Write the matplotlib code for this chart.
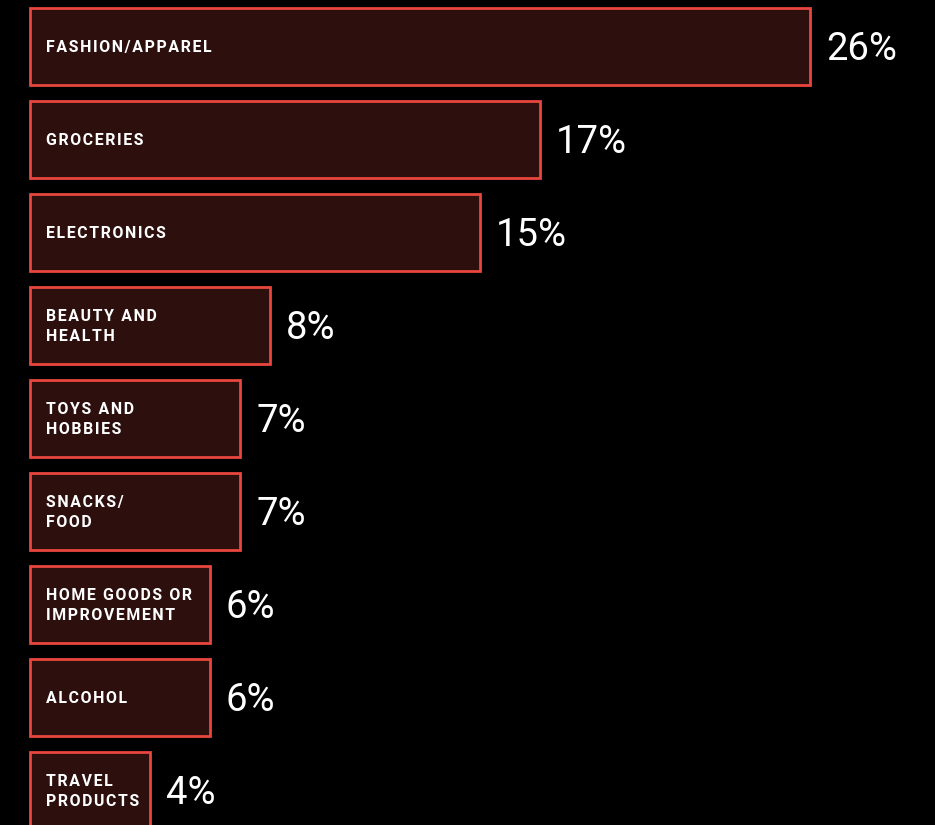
import numpy as np
import matplotlib.pyplot as plt

plt.rcParams['font.family'] = ['Roboto', 'DejaVu Sans']

categories = ['FASHION/APPAREL', 'GROCERIES', 'ELECTRONICS', 'BEAUTY AND\nHEALTH',
              'TOYS AND\nHOBBIES', 'SNACKS/\nFOOD', 'HOME GOODS OR\nIMPROVEMENT',
              'ALCOHOL', 'TRAVEL\nPRODUCTS']
shares = [26, 17, 15, 8, 7, 7, 6, 6, 4]

bg = '#000000'
fill = '#2d0f0e'
edge = '#e8463e'

fig = plt.figure(figsize=(9.35, 8.25), dpi=100, facecolor=bg)
ax = fig.add_axes([0, 0, 1, 1], facecolor=bg)

px = 30.0  # pixels per percentage point
y = np.arange(len(categories))
ax.barh(y, shares, height=77 / 93, color=fill, edgecolor=edge, linewidth=2.0)

ax.set_xlim(-30 / px, (935 - 30) / px)
ax.set_ylim((825 - 46.5) / 93, -46.5 / 93)
ax.axis('off')


def spaced(s):
    # widen the tracking a bit with hair spaces
    return '\n'.join('\u200a'.join(line) for line in s.split('\n'))


for i, (c, v) in enumerate(zip(categories, shares)):
    ax.annotate(spaced(c), (0, i), xytext=(16, -1), textcoords='offset pixels',
                color='white', fontsize=11.4, fontweight='bold', va='center',
                ha='left', linespacing=1.38)
    ax.annotate(f'{v}%', (v, i), xytext=(16, -3), textcoords='offset pixels',
                color='white', fontsize=27.5, va='center', ha='left')

fig.savefig('out.png', dpi=100, facecolor=bg)
